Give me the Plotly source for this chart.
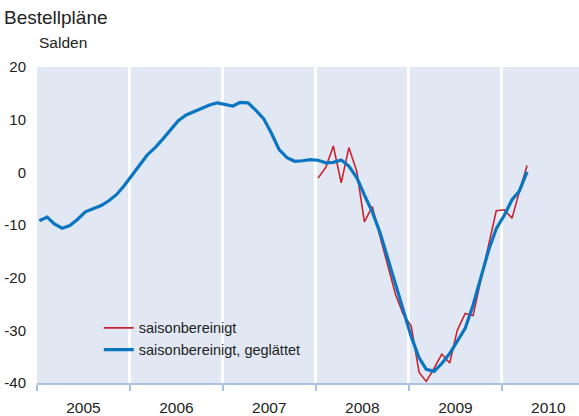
import pandas as pd
import plotly.graph_objects as go

# ---- data (monthly, from Jan 2005 / Jan 2008) ----
blue_start = "2005-01"
blue_values = [
    -9.2, -8.5, -9.8, -10.6, -10.1, -8.9, -7.5, -6.9, -6.3, -5.4, -4.2, -2.5,   # 2005
    -0.4, 1.5, 3.3, 4.7, 6.3, 8.0, 9.8, 10.9, 11.5, 12.1, 12.8, 13.2,          # 2006
    12.9, 12.6, 13.3, 13.2, 11.8, 10.2, 7.5, 4.3, 2.8, 2.1, 2.2, 2.4,          # 2007
    2.3, 1.8, 1.9, 2.35, 1.2, -1.0, -4.3, -7.5, -11.5, -16.3, -21.6, -26.5,     # 2008
    -31.2, -35.2, -37.4, -37.8, -36.3, -34.4, -31.9, -29.6, -25.2, -20.0, -14.8, -10.7,  # 2009
    -8.2, -5.2, -3.6, 0.1,                                                      # 2010
]
red_start = "2008-01"
red_values = [
    -1.1, 1.0, 5.0, -2.0, 4.7, 0.2, -9.4, -6.5, -12.3, -17.5, -23.3, -27.0,     # 2008
    -29.2, -38.0, -39.7, -37.2, -34.5, -36.2, -30.0, -26.8, -27.2, -20.5, -13.8, -7.3,  # 2009
    -7.1, -8.7, -3.8, 1.3,                                                      # 2010
]
y_tickvals = [-40, -30, -20, -10, 0, 10, 20]
y_ticktext = ["-40", "-30", "-20", "-10", "0", "10", "20"]
name_red = "saisonbereinigt"
name_blue = "saisonbereinigt, geglättet"
title_text = "Bestellpläne"
unit_text = "Salden"

# month positions (plotted a little after the start of each month)
def month_dates(start, n):
    return pd.date_range(start=start + "-01", periods=n, freq="MS") + pd.Timedelta(days=9)

blue_x = month_dates(blue_start, len(blue_values))
red_x = month_dates(red_start, len(red_values))

BLUE = "#0a76c2"
RED = "#c62530"
BG = "#e1e8f4"
AXIS = "#a9c1e2"
TEXT = "#222222"
FONT = "Liberation Sans, Arial, sans-serif"

fig = go.Figure()
fig.add_trace(go.Scatter(x=red_x, y=red_values, mode="lines", name=name_red,
                         line=dict(color=RED, width=1.6)))
fig.add_trace(go.Scatter(x=blue_x, y=blue_values, mode="lines", name=name_blue,
                         line=dict(color=BLUE, width=3.2)))

fig.update_layout(
    width=579, height=416,
    margin=dict(l=37, r=0, t=67, b=33, autoexpand=False),
    paper_bgcolor="white",
    plot_bgcolor=BG,
    font=dict(family=FONT, size=15, color=TEXT),
    showlegend=True,
    legend=dict(x=0.114, y=0.225, xanchor="left", yanchor="top",
                bgcolor="rgba(0,0,0,0)", font=dict(size=14.5, color=TEXT),
                tracegroupgap=0, itemwidth=30),
    annotations=[
        dict(text=title_text, xref="paper", yref="paper", x=-37/542, y=1 + 62/316,
             xanchor="left", yanchor="top", showarrow=False,
             font=dict(size=19, color=TEXT), xshift=2),
        dict(text=unit_text, xref="paper", yref="paper", x=0, y=1 + 35/316,
             xanchor="left", yanchor="top", showarrow=False,
             font=dict(size=15.5, color=TEXT)),
    ],
)

fig.update_xaxes(
    type="date",
    range=["2005-01-01", "2010-10-31"],
    dtick="M12", tick0="2005-01-01",
    ticklabelmode="period", tickformat="%Y",
    showgrid=True, gridcolor="white", gridwidth=2.5,
    showline=True, linecolor=AXIS, linewidth=1.5,
    ticks="outside", ticklen=6, tickcolor=AXIS, tickwidth=1.5,
    ticklabelstandoff=4,
    tickfont=dict(size=15.5, color=TEXT),
    zeroline=False, automargin=False,
)
fig.update_yaxes(
    range=[-40, 20],
    tickvals=y_tickvals, ticktext=y_ticktext,
    showgrid=False, zeroline=False, showline=False,
    ticks="", ticklabelstandoff=10,
    tickfont=dict(size=15, color=TEXT),
    automargin=False,
)

fig.write_html(
    "out.html",
    config={"displayModeBar": False},
    post_script="document.body.style.margin='0';document.body.style.overflow='hidden';",
)
